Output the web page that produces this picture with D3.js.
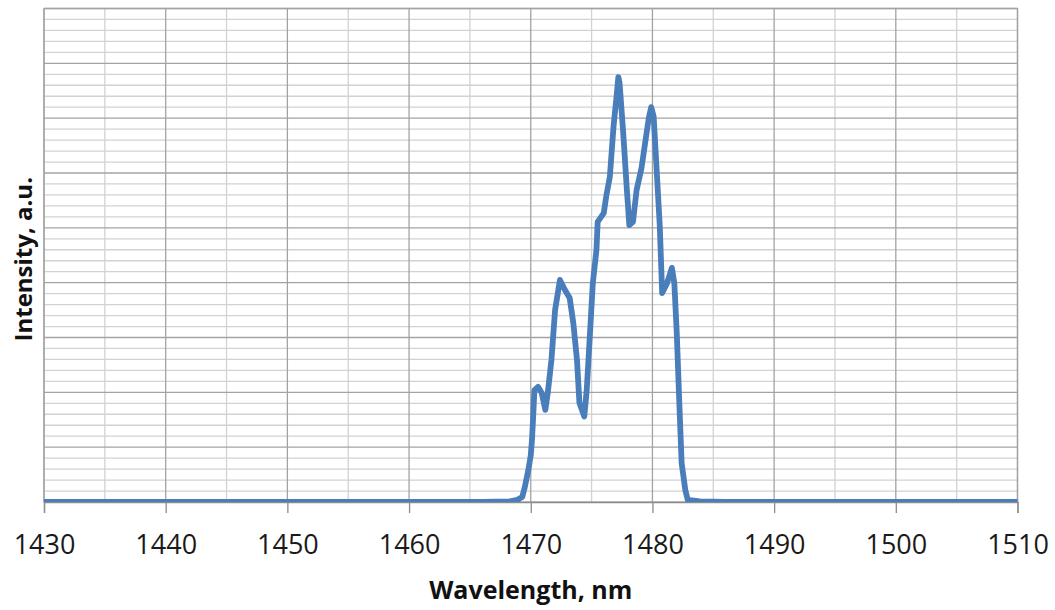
<!DOCTYPE html>
<html>
<head>
<meta charset="utf-8">
<script src="https://cdn.jsdelivr.net/npm/d3@7"></script>
<style>
  html, body { margin: 0; padding: 0; background: #fff; }
  svg { display: block; }
</style>
</head>
<body>
<svg id="chart" width="1055" height="610"></svg>
<script>
// Emission spectrum: wavelength (nm) vs. intensity (arbitrary units)
const wavelength = [1430, 1440, 1450, 1460, 1466, 1468.3, 1468.9, 1469.3, 1469.5, 1469.8, 1470.0, 1470.1,
  1470.2, 1470.3, 1470.6, 1470.9, 1471.2, 1471.4, 1471.7, 1472.0, 1472.4, 1472.8, 1473.2, 1473.5,
  1473.8, 1474.0, 1474.4, 1474.6, 1474.9, 1475.1, 1475.4, 1475.5, 1476.0, 1476.2, 1476.5, 1476.8,
  1477.1, 1477.2, 1477.3, 1477.6, 1477.9, 1478.1, 1478.4, 1478.7, 1479.1, 1479.4, 1479.7, 1479.9,
  1480.1, 1480.3, 1480.6, 1480.8, 1481.2, 1481.6, 1481.8, 1482.0, 1482.2, 1482.4, 1482.7, 1482.9,
  1483.9, 1486, 1490, 1500, 1510];
const intensity = [0, 0, 0, 0, 0, 0.01, 0.04, 0.09, 0.26, 0.58, 0.85, 1.13,
  1.56, 2.04, 2.10, 1.99, 1.68, 1.99, 2.59, 3.50, 4.05, 3.87, 3.72, 3.26,
  2.59, 1.81, 1.56, 2.04, 3.20, 3.99, 4.60, 5.11, 5.27, 5.57, 5.93, 6.84,
  7.51, 7.75, 7.64, 6.73, 5.69, 5.05, 5.11, 5.69, 6.09, 6.55, 7.00, 7.20,
  7.03, 6.24, 5.05, 3.81, 3.99, 4.27, 3.99, 3.08, 1.86, 0.71, 0.22, 0.04,
  0.01, 0, 0, 0, 0];

// Axis ranges and tick/grid steps
const xDomain = [1430, 1510];
const xTickLabels = [1430, 1440, 1450, 1460, 1470, 1480, 1490, 1500, 1510];
const xMinorGrid = d3.range(1435, 1510, 10);
const yDomain = [0, 9];
const yMajorGrid = d3.range(1, 10, 1);
const yMinorGrid = d3.range(0.2, 9, 0.2).filter(v => Math.abs(v - Math.round(v)) > 1e-6);

const svg = d3.select("#chart");
const plotLeft = 44, plotRight = 1017.5, plotTop = 8.5, plotBottom = 502;

const x = d3.scaleLinear().domain(xDomain).range([plotLeft, plotRight]);
const y = d3.scaleLinear().domain(yDomain).range([plotBottom, plotTop]);

const grid = svg.append("g");

// minor horizontal grid
grid.selectAll(".hmin").data(yMinorGrid).join("line")
  .attr("x1", plotLeft).attr("x2", plotRight)
  .attr("y1", d => y(d)).attr("y2", d => y(d))
  .attr("stroke", "#d2d2d2").attr("stroke-width", 1.3);

// minor vertical grid
grid.selectAll(".vmin").data(xMinorGrid).join("line")
  .attr("x1", d => x(d)).attr("x2", d => x(d))
  .attr("y1", plotTop).attr("y2", plotBottom)
  .attr("stroke", "#d2d2d2").attr("stroke-width", 1.3);

// major horizontal grid
grid.selectAll(".hmaj").data(yMajorGrid).join("line")
  .attr("x1", plotLeft).attr("x2", plotRight)
  .attr("y1", d => y(d)).attr("y2", d => y(d))
  .attr("stroke", "#a3a3a3").attr("stroke-width", 1.3);

// major vertical grid
grid.selectAll(".vmaj").data(xTickLabels).join("line")
  .attr("x1", d => x(d)).attr("x2", d => x(d))
  .attr("y1", plotTop).attr("y2", plotBottom)
  .attr("stroke", "#a3a3a3").attr("stroke-width", 1.3);

// plot frame
svg.append("rect")
  .attr("x", plotLeft).attr("y", plotTop)
  .attr("width", plotRight - plotLeft).attr("height", plotBottom - plotTop)
  .attr("fill", "none").attr("stroke", "#a3a3a3").attr("stroke-width", 1.3);

// x axis with outward ticks
const xAxis = d3.axisBottom(x)
  .tickValues(xTickLabels)
  .tickFormat(d3.format("d"))
  .tickSize(11)
  .tickPadding(22);

const gx = svg.append("g")
  .attr("transform", `translate(0,${plotBottom})`)
  .call(xAxis);
gx.select(".domain").attr("stroke", "#8c8c8c").attr("stroke-width", 1.3);
gx.selectAll(".tick line").attr("stroke", "#8c8c8c").attr("stroke-width", 1.3);
gx.selectAll(".tick text")
  .attr("fill", "#1a1a1a")
  .style("font-family", "'Open Sans', 'Liberation Sans', sans-serif")
  .style("font-size", "27px");

// spectrum line, clipped to the plot area
svg.append("clipPath").attr("id", "plotClip")
  .append("rect")
  .attr("x", plotLeft).attr("y", plotTop)
  .attr("width", plotRight - plotLeft).attr("height", plotBottom - plotTop);

const line = d3.line()
  .x((d, i) => x(wavelength[i]))
  .y(d => y(d));

svg.append("path")
  .datum(intensity)
  .attr("clip-path", "url(#plotClip)")
  .attr("d", line)
  .attr("fill", "none")
  .attr("stroke", "#4a7ebb")
  .attr("stroke-width", 5.8)
  .attr("stroke-linejoin", "round")
  .attr("stroke-linecap", "round");

// axis titles
svg.append("text")
  .attr("x", (plotLeft + plotRight) / 2)
  .attr("y", 599)
  .attr("text-anchor", "middle")
  .attr("fill", "#111")
  .style("font-family", "'Open Sans', 'Liberation Sans', sans-serif")
  .style("font-weight", "bold")
  .style("font-size", "25px")
  .text("Wavelength, nm");

svg.append("text")
  .attr("transform", `translate(32,${(plotTop + plotBottom) / 2 + 4}) rotate(-90)`)
  .attr("text-anchor", "middle")
  .attr("fill", "#111")
  .style("font-family", "'Open Sans', 'Liberation Sans', sans-serif")
  .style("font-weight", "bold")
  .style("font-size", "24px")
  .text("Intensity, a.u.");
</script>
</body>
</html>
